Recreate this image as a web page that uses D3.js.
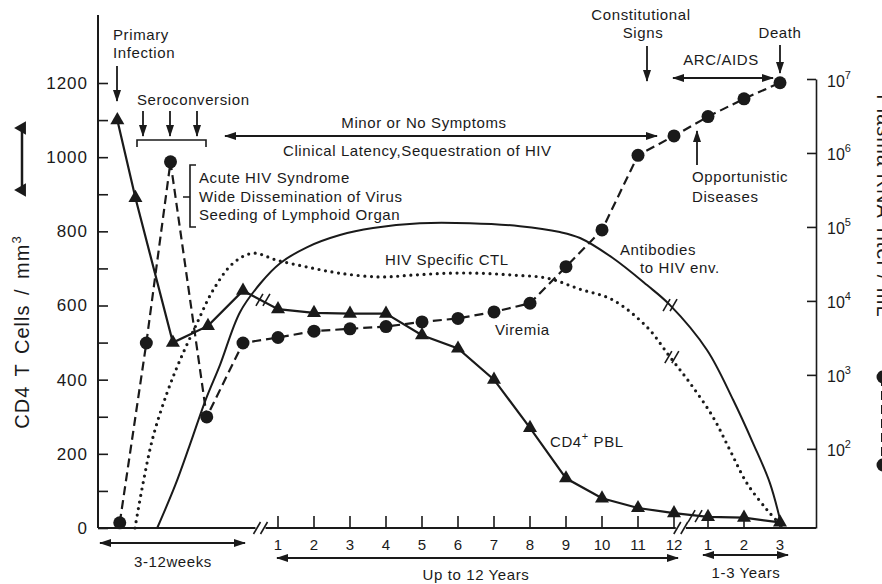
<!DOCTYPE html>
<html>
<head>
<meta charset="utf-8">
<script src="https://cdn.jsdelivr.net/npm/d3@7"></script>
<style>
  body { margin: 0; background: #fff; }
  text { font-family: "Liberation Sans", Arial, sans-serif; fill: #1a1a1a; }
</style>
</head>
<body>
<div id="chart"></div>
<script>
// Course of HIV infection - redrawn
const width = 882;
const height = 584;

// time axis: weeks 0-12, then years 1-12 (t = 12 + yr), then years 1-3 (t = 24 + yr)
const yearLabels = d3.range(1, 13);
const lateLabels = [1, 2, 3];

// CD4+ PBL (cells / mm3), triangles
const cd4Weeks = [[1.6, 1100], [3.1, 890], [6.2, 500], [9.1, 545], [12, 640]];
const cd4Years = [590, 580, 578, 578, 520, 484, 400, 270, 134, 80, 54, 40];
const cd4Late = [30, 28, 15];

// viremia (plasma RNA titer / mL), circles, right log axis
const viremiaWeeks = [[1.8, 10], [4, 2.7e3], [6, 7.6e5], [9, 270], [12, 2.7e3]];
const viremiaYears = [3.2e3, 3.9e3, 4.2e3, 4.5e3, 5.2e3, 5.8e3, 7.1e3, 9.3e3, 2.9e4, 9.1e4, 9.3e5, 1.7e6];
const viremiaLate = [3.1e6, 5.4e6, 8.9e6];

// antibodies to HIV env (solid curve), [t, level]
const antibodies = [[4.9, 0], [6.4, 116], [7.6, 224], [8.9, 345], [10.1, 440], [11.75, 582],
  [12.5, 660], [13.06, 714], [13.8, 757], [14.72, 790], [15.64, 809], [16.94, 822],
  [18.33, 822], [19.72, 814], [20.83, 798], [21.39, 782], [22.3, 728], [23.25, 655],
  [23.89, 601], [24.97, 480], [25.7, 345], [26.25, 229], [26.72, 121], [27.05, 3]];

// HIV specific CTL (dotted curve), [t, level]
const ctl = [[3.06, 0], [3.73, 121], [4.55, 245], [5.71, 364], [6.79, 453], [8.2, 553],
  [9.52, 641], [11.18, 714], [12.29, 741], [12.97, 722], [13.8, 704], [14.72, 687],
  [15.83, 677], [16.75, 682], [17.69, 687], [18.61, 687], [19.53, 682], [20.47, 674],
  [21.39, 644], [22.3, 615], [23.25, 542], [23.89, 461], [24.47, 391], [25.14, 299],
  [25.61, 210], [26.08, 121], [26.64, 49], [27, 10]];

// break marks "//", [t, level]
const lineBreaks = [[12.57, 615], [23.89, 601], [23.94, 461], [24.62, 32]];
const axisBreaks = [12.5, 24.2];

const leftTicks = d3.range(0, 1201, 100);
const rightTicks = [2, 3, 4, 5, 6, 7];

const svg = d3.select("#chart")
  .append("svg")
  .attr("width", width)
  .attr("height", height);

const x = d3.scaleLinear()
  .domain([0, 12, 13, 24, 25, 27])
  .range([98, 243, 278, 674, 708, 780]);
const y = d3.scaleLinear().domain([0, 1200]).range([528, 83]);
const yR = d3.scaleLog().domain([Math.pow(10, 0.93), 1e7]).range([528, 79]);

const cd4 = cd4Weeks.map(d => [d[0], d[1]])
  .concat(cd4Years.map((v, i) => [12 + i + 1, v]))
  .concat(cd4Late.map((v, i) => [24 + i + 1, v]));
const viremia = viremiaWeeks.map(d => [d[0], d[1]])
  .concat(viremiaYears.map((v, i) => [12 + i + 1, v]))
  .concat(viremiaLate.map((v, i) => [24 + i + 1, v]));

const ink = "#1a1a1a";

// arrow heads
const defs = svg.append("defs");
defs.append("marker")
  .attr("id", "head")
  .attr("viewBox", "0 0 12 8")
  .attr("refX", 11).attr("refY", 4)
  .attr("markerWidth", 12).attr("markerHeight", 8)
  .attr("markerUnits", "userSpaceOnUse")
  .attr("orient", "auto-start-reverse")
  .append("path").attr("d", "M0,0L12,4L0,8Z").attr("fill", ink);

function arrow(x1, y1, x2, y2, both) {
  const l = svg.append("line")
    .attr("x1", x1).attr("y1", y1).attr("x2", x2).attr("y2", y2)
    .attr("stroke", ink).attr("stroke-width", 1.8)
    .attr("marker-end", "url(#head)");
  if (both) l.attr("marker-start", "url(#head)");
}

function label(tx, ty, str, anchor, size) {
  return svg.append("text")
    .attr("x", tx).attr("y", ty)
    .attr("text-anchor", anchor || "start")
    .style("font-size", (size || 15) + "px")
    .style("letter-spacing", "0.6px")
    .text(str);
}

function slashes(cx, cy) {
  [-3.5, 3.5].forEach(dx => {
    svg.append("line")
      .attr("x1", cx + dx - 3.5).attr("y1", cy + 6)
      .attr("x2", cx + dx + 3.5).attr("y2", cy - 6)
      .attr("stroke", ink).attr("stroke-width", 1.6);
  });
}

// ---- axes ----
svg.append("line")
  .attr("x1", 98).attr("y1", 15).attr("x2", 98).attr("y2", 528)
  .attr("stroke", ink).attr("stroke-width", 2);

svg.append("g")
  .attr("transform", "translate(98,0)")
  .call(d3.axisLeft(y).tickValues(leftTicks).tickSize(-10).tickPadding(10)
    .tickFormat(d => d % 200 === 0 ? d : ""))
  .call(g => g.select(".domain").remove())
  .call(g => g.selectAll("line").attr("stroke", ink).attr("stroke-width", 1.6))
  .call(g => g.selectAll("text").style("font-size", "17px").style("letter-spacing", "1px")
    .attr("fill", ink).style("font-family", "'Liberation Sans', Arial, sans-serif"));

const gR = svg.append("g")
  .attr("transform", "translate(816,0)")
  .call(d3.axisRight(yR).tickValues(rightTicks.map(e => Math.pow(10, e)))
    .tickSize(-9).tickSizeOuter(0).tickFormat(""))
  .call(g => g.select(".domain").attr("stroke", ink).attr("stroke-width", 1.6))
  .call(g => g.selectAll("line").attr("stroke", ink).attr("stroke-width", 1.6));

gR.selectAll(".tick").each(function(d) {
  const t = d3.select(this).append("text")
    .attr("x", 11).attr("y", 7)
    .attr("fill", ink)
    .style("font-size", "16px")
    .attr("text-anchor", "start");
  t.append("tspan").text("10");
  t.append("tspan").attr("dy", -8).style("font-size", "11px")
    .text(Math.round(Math.log10(d)));
});

// x baseline
svg.append("line")
  .attr("x1", 98).attr("y1", 528).attr("x2", 816).attr("y2", 528)
  .attr("stroke", ink).attr("stroke-width", 2);

axisBreaks.forEach(t => {
  svg.append("rect").attr("x", x(t) - 5).attr("y", 524).attr("width", 10).attr("height", 8)
    .attr("fill", "#fff");
  slashes(x(t), 528);
});

const tickTs = yearLabels.map(v => 12 + v).concat(lateLabels.map(v => 24 + v));
const tickTx = yearLabels.concat(lateLabels);
tickTs.forEach((t, i) => {
  svg.append("line")
    .attr("x1", x(t)).attr("x2", x(t)).attr("y1", 528).attr("y2", 516)
    .attr("stroke", ink).attr("stroke-width", 1.6);
  svg.append("text")
    .attr("x", x(t)).attr("y", 550)
    .attr("text-anchor", "middle")
    .style("font-size", "15px")
    .text(tickTx[i]);
});

// axis titles
const lt = svg.append("text")
  .attr("transform", "translate(29,332) rotate(-90)")
  .attr("text-anchor", "middle")
  .style("font-size", "20px")
  .style("letter-spacing", "1px")
  .style("word-spacing", "3px");
lt.append("tspan").text("CD4  T Cells / mm");
lt.append("tspan").attr("dy", -8).style("font-size", "13px").text("3");

// right title runs off the edge of the picture, as in the original
svg.append("text")
  .attr("transform", "translate(877,206) rotate(90)")
  .attr("text-anchor", "middle")
  .style("font-size", "20px")
  .style("letter-spacing", "1px")
  .text("Plasma RNA Titer / mL");

// legend keys beside the titles
svg.append("line").attr("x1", 22).attr("x2", 22).attr("y1", 128).attr("y2", 190)
  .attr("stroke", ink).attr("stroke-width", 2.5);
[128, 190].forEach(cy => {
  svg.append("path")
    .attr("d", d3.symbol(d3.symbolTriangle).size(80)())
    .attr("transform", `translate(22,${cy}) rotate(-90)`)
    .attr("fill", ink);
});
svg.append("line").attr("x1", 882).attr("x2", 882).attr("y1", 377).attr("y2", 465)
  .attr("stroke", ink).attr("stroke-width", 2).attr("stroke-dasharray", "9,5");
[377, 465].forEach(cy => {
  svg.append("circle").attr("cx", 883).attr("cy", cy).attr("r", 6.5).attr("fill", ink);
});

// ---- curves ----
const smooth = d3.line().x(d => x(d[0])).y(d => y(d[1])).curve(d3.curveCatmullRom.alpha(0.5));

svg.append("path")
  .attr("d", smooth(antibodies))
  .attr("fill", "none").attr("stroke", ink).attr("stroke-width", 2);

svg.append("path")
  .attr("d", smooth(ctl))
  .attr("fill", "none").attr("stroke", ink).attr("stroke-width", 3.2)
  .attr("stroke-linecap", "round").attr("stroke-dasharray", "0,6.6");

svg.append("path")
  .attr("d", d3.line().x(d => x(d[0])).y(d => yR(d[1]))(viremia))
  .attr("fill", "none").attr("stroke", ink).attr("stroke-width", 2.2)
  .attr("stroke-dasharray", "9,5");

svg.append("path")
  .attr("d", d3.line().x(d => x(d[0])).y(d => y(d[1]))(cd4))
  .attr("fill", "none").attr("stroke", ink).attr("stroke-width", 2.2);

lineBreaks.forEach(d => slashes(x(d[0]), y(d[1])));

svg.selectAll(".vir")
  .data(viremia)
  .join("circle")
  .attr("class", "vir")
  .attr("cx", d => x(d[0]))
  .attr("cy", d => yR(d[1]))
  .attr("r", 6.5)
  .attr("fill", ink);

svg.selectAll(".cd4")
  .data(cd4)
  .join("path")
  .attr("class", "cd4")
  .attr("d", d3.symbol(d3.symbolTriangle).size(85)())
  .attr("transform", d => `translate(${x(d[0])},${y(d[1])})`)
  .attr("fill", ink);

// ---- annotations ----
label(113, 40, "Primary");
label(113, 58, "Infection");
arrow(117, 66, 117, 101);

label(137, 105, "Seroconversion");
[143, 170, 197].forEach(ax => arrow(ax, 111, ax, 136));
svg.append("path").attr("d", "M137,147V140H206V147")
  .attr("fill", "none").attr("stroke", ink).attr("stroke-width", 1.6);

arrow(225, 136, 657, 136, true);
label(424, 128, "Minor or No Symptoms", "middle");
label(283, 156, "Clinical Latency,Sequestration of HIV");

svg.append("path").attr("d", "M196,165H190V227H196M183,197H190")
  .attr("fill", "none").attr("stroke", ink).attr("stroke-width", 1.6);
label(199, 183, "Acute HIV Syndrome");
label(199, 202, "Wide Dissemination of Virus");
label(199, 220, "Seeding of Lymphoid Organ");

label(641, 20, "Constitutional", "middle");
label(643, 38, "Signs", "middle");
arrow(647, 46, 647, 81);

label(780, 38, "Death", "middle");
arrow(780, 45, 780, 73);

label(721, 65, "ARC/AIDS", "middle");
arrow(673, 78, 773, 78, true);

arrow(697, 165, 697, 131);
label(692, 182, "Opportunistic");
label(692, 202, "Diseases");

label(385, 265, "HIV Specific CTL");
label(495, 335, "Viremia");
const cdl = label(550, 447, "CD4");
cdl.append("tspan").attr("dy", -7).style("font-size", "11px").text("+");
cdl.append("tspan").attr("dy", 7).text(" PBL");
label(620, 255, "Antibodies");
label(640, 273, "to HIV env.");

// bottom spans
arrow(100, 543, 245, 543, true);
label(173, 567, "3-12weeks", "middle");
arrow(277, 558, 678, 558, true);
label(476, 580, "Up to 12 Years", "middle");
arrow(703, 555, 788, 555, true);
label(746, 578, "1-3 Years", "middle");
</script>
</body>
</html>
